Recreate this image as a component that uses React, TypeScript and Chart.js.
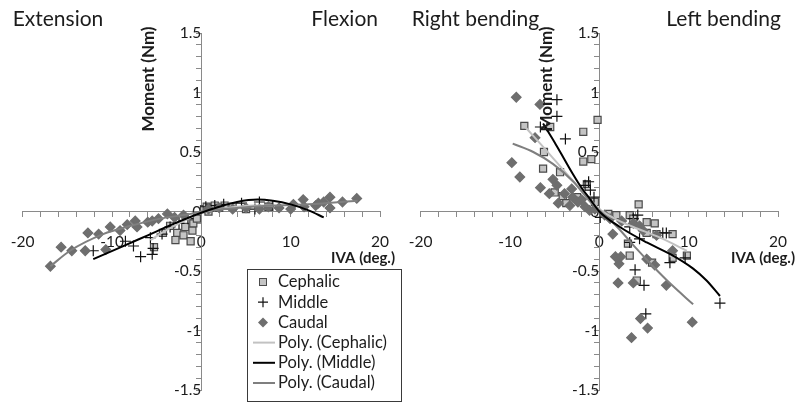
import React, { useEffect, useRef } from 'react';
import { Chart, registerables } from 'chart.js';

Chart.register(...registerables);

type Pt = { x: number; y: number };

// ---------- axes ----------
const X_MIN = -20;
const X_MAX = 20;
const X_STEP = 2;
const X_LABEL_EVERY = 10;
const Y_MIN = -1.5;
const Y_MAX = 1.5;
const Y_STEP = 0.1;
const Y_LABEL_EVERY = 0.5;
const X_TITLE = 'IVA (deg.)';
const Y_TITLE = 'Moment (Nm)';

const SERIES_NAMES = ['Cephalic', 'Middle', 'Caudal'];
const TREND_NAMES = ['Poly. (Cephalic)', 'Poly. (Middle)', 'Poly. (Caudal)'];

// ---------- panel 1 : extension / flexion ----------
const flexLabels = ['Extension', 'Flexion'];
const flexCephalic: Pt[] = [
  { x: -5.3, y: -0.3 }, { x: -4.3, y: -0.18 }, { x: -3.5, y: -0.12 }, { x: -2.9, y: -0.24 },
  { x: -2.7, y: -0.18 }, { x: -2.0, y: -0.2 }, { x: -1.8, y: -0.13 }, { x: -1.2, y: -0.25 },
  { x: -1.0, y: -0.16 }, { x: -0.9, y: -0.1 }, { x: -0.5, y: -0.06 }, { x: 0.3, y: 0.02 },
  { x: 0.6, y: 0.04 }, { x: 1.0, y: 0.03 }, { x: 1.5, y: 0.05 }, { x: 2.0, y: 0.03 },
  { x: 2.6, y: 0.05 }, { x: 3.5, y: 0.04 }, { x: 0.8, y: 0.0 }, { x: 5.0, y: 0.02 }, { x: 7.5, y: 0.04 },
];
const flexMiddle: Pt[] = [
  { x: -12.1, y: -0.33 }, { x: -8.5, y: -0.25 }, { x: -7.6, y: -0.29 }, { x: -6.8, y: -0.38 },
  { x: -5.5, y: -0.36 }, { x: -5.4, y: -0.31 }, { x: -5.7, y: -0.22 }, { x: -4.4, y: -0.19 },
  { x: -3.5, y: -0.13 }, { x: -2.5, y: -0.1 }, { x: -1.5, y: -0.06 }, { x: 0.5, y: 0.04 },
  { x: 1.5, y: 0.05 }, { x: 2.5, y: 0.06 }, { x: 3.5, y: 0.03 }, { x: 4.5, y: 0.07 },
  { x: 6.5, y: 0.08 }, { x: 6.0, y: 0.02 }, { x: 8.0, y: 0.05 },
];
const flexCaudal: Pt[] = [
  { x: -16.9, y: -0.46 }, { x: -15.7, y: -0.3 }, { x: -14.5, y: -0.33 }, { x: -13.0, y: -0.33 },
  { x: -12.7, y: -0.18 }, { x: -11.5, y: -0.19 }, { x: -10.7, y: -0.32 }, { x: -10.2, y: -0.13 },
  { x: -9.1, y: -0.16 }, { x: -8.3, y: -0.11 }, { x: -7.4, y: -0.08 }, { x: -7.2, y: -0.13 },
  { x: -6.0, y: -0.09 }, { x: -5.5, y: -0.08 }, { x: -4.8, y: -0.06 }, { x: -3.8, y: -0.02 },
  { x: -3.0, y: -0.05 }, { x: -2.0, y: -0.03 }, { x: 0.8, y: 0.02 }, { x: 2.0, y: 0.03 },
  { x: 3.5, y: 0.02 }, { x: 5.0, y: 0.03 }, { x: 6.5, y: 0.02 }, { x: 7.5, y: 0.04 },
  { x: 8.7, y: 0.03 }, { x: 10.0, y: 0.02 }, { x: 10.3, y: 0.06 }, { x: 11.4, y: 0.1 },
  { x: 11.5, y: 0.04 }, { x: 12.8, y: 0.05 }, { x: 13.1, y: 0.07 }, { x: 13.7, y: 0.08 },
  { x: 14.4, y: 0.03 }, { x: 14.4, y: 0.12 }, { x: 15.8, y: 0.08 }, { x: 17.4, y: 0.11 },
];
const flexPolyCephalic: Pt[] = [
  { x: -5.7, y: -0.24 }, { x: -4, y: -0.16 }, { x: -2, y: -0.08 }, { x: 0, y: -0.01 },
  { x: 2, y: 0.02 }, { x: 4, y: 0.04 }, { x: 6, y: 0.05 }, { x: 8, y: 0.05 },
];
const flexPolyMiddle: Pt[] = [
  { x: -12.1, y: -0.4 }, { x: -9, y: -0.3 }, { x: -6, y: -0.2 }, { x: -3, y: -0.1 },
  { x: 0, y: -0.01 }, { x: 2, y: 0.04 }, { x: 4, y: 0.08 }, { x: 6.3, y: 0.1 },
  { x: 8, y: 0.09 }, { x: 10, y: 0.06 }, { x: 12, y: 0.01 }, { x: 13.7, y: -0.05 },
];
const flexPolyCaudal: Pt[] = [
  { x: -16.9, y: -0.46 }, { x: -14.7, y: -0.33 }, { x: -11, y: -0.19 }, { x: -7.9, y: -0.12 },
  { x: -4.6, y: -0.06 }, { x: -1.2, y: -0.02 }, { x: 0, y: 0 }, { x: 4, y: 0.03 },
  { x: 8, y: 0.05 }, { x: 12, y: 0.06 }, { x: 17.5, y: 0.09 },
];

// ---------- panel 2 : right / left bending ----------
const bendLabels = ['Right bending', 'Left bending'];
const bendCephalic: Pt[] = [
  { x: -8.4, y: 0.72 }, { x: -5.5, y: 0.71 }, { x: -1.8, y: 0.67 }, { x: -0.2, y: 0.77 },
  { x: -1.8, y: 0.42 }, { x: -0.9, y: 0.44 }, { x: -6.3, y: 0.36 }, { x: -4.4, y: 0.33 },
  { x: -1.4, y: 0.23 }, { x: -5.0, y: 0.16 }, { x: -4.1, y: 0.13 }, { x: -3.7, y: 0.07 },
  { x: -6.2, y: 0.5 }, { x: -2.5, y: 0.12 }, { x: -0.5, y: 0.08 },
  { x: 1.9, y: -0.03 }, { x: 3.4, y: -0.03 }, { x: 4.4, y: 0.06 }, { x: 5.3, y: -0.09 },
  { x: 6.2, y: -0.1 }, { x: 8.2, y: -0.19 }, { x: 6.4, y: -0.19 }, { x: 3.4, y: -0.37 },
  { x: 3.2, y: -0.27 }, { x: 4.2, y: -0.58 }, { x: 5.9, y: -0.43 }, { x: 8.2, y: -0.39 },
  { x: 9.8, y: -0.37 }, { x: 5.3, y: -0.18 }, { x: 3.8, y: -0.06 }, { x: 1.0, y: -0.02 },
];
const bendMiddle: Pt[] = [
  { x: -4.75, y: 0.94 }, { x: -4.75, y: 0.8 }, { x: -6.6, y: 0.71 }, { x: -3.8, y: 0.61 },
  { x: -1.6, y: 0.22 }, { x: -1.2, y: 0.25 }, { x: -1.0, y: 0.18 }, { x: -0.6, y: 0.12 },
  { x: 0.1, y: -0.05 }, { x: 3.8, y: -0.06 }, { x: 4.3, y: -0.03 }, { x: 3.4, y: -0.13 },
  { x: 4.5, y: -0.23 }, { x: 7.1, y: -0.18 }, { x: 7.5, y: -0.18 }, { x: 7.9, y: -0.43 },
  { x: 9.6, y: -0.39 }, { x: 4.0, y: -0.49 }, { x: 5.0, y: -0.62 }, { x: 5.2, y: -0.86 },
  { x: 13.5, y: -0.77 }, { x: 3.4, y: -0.26 },
];
const bendCaudal: Pt[] = [
  { x: -9.3, y: 0.96 }, { x: -6.65, y: 0.9 }, { x: -7.2, y: 0.62 }, { x: -9.8, y: 0.41 },
  { x: -8.9, y: 0.29 }, { x: -6.6, y: 0.2 }, { x: -5.6, y: 0.15 }, { x: -4.75, y: 0.22 },
  { x: -5.2, y: 0.27 }, { x: -4.6, y: 0.07 }, { x: -3.0, y: 0.12 }, { x: -2.4, y: 0.08 },
  { x: -1.6, y: 0.04 }, { x: -1.1, y: 0.01 }, { x: -3.3, y: 0.05 }, { x: -3.9, y: 0.15 },
  { x: -3.1, y: 0.19 }, { x: -2.0, y: 0.1 }, { x: -0.5, y: 0.02 },
  { x: 0.6, y: -0.03 }, { x: 1.5, y: -0.19 }, { x: 1.8, y: -0.38 }, { x: 2.2, y: -0.44 },
  { x: 2.4, y: -0.38 }, { x: 2.1, y: -0.6 }, { x: 3.8, y: -0.6 }, { x: 3.6, y: -1.06 },
  { x: 4.6, y: -0.9 }, { x: 5.4, y: -0.98 }, { x: 7.5, y: -0.62 }, { x: 6.2, y: -0.45 },
  { x: 5.3, y: -0.4 }, { x: 10.4, y: -0.93 }, { x: 8.2, y: -0.33 }, { x: 4.9, y: -0.16 },
  { x: 6.4, y: -0.2 }, { x: 2.5, y: -0.08 }, { x: 3.8, y: -0.1 }, { x: 4.5, y: -0.12 }, { x: 1.2, y: -0.06 },
];
const bendPolyCephalic: Pt[] = [
  { x: -8.3, y: 0.71 }, { x: -5.9, y: 0.51 }, { x: -3.7, y: 0.32 }, { x: -1.4, y: 0.13 },
  { x: 0, y: 0.02 }, { x: 2, y: -0.07 }, { x: 3.8, y: -0.13 }, { x: 6.8, y: -0.22 }, { x: 9.8, y: -0.33 },
];
const bendPolyMiddle: Pt[] = [
  { x: -6.3, y: 0.74 }, { x: -5, y: 0.58 }, { x: -4, y: 0.45 }, { x: -3, y: 0.32 },
  { x: -2, y: 0.2 }, { x: -1, y: 0.1 }, { x: 0, y: 0 }, { x: 2.3, y: -0.13 },
  { x: 5.3, y: -0.26 }, { x: 8, y: -0.36 }, { x: 10.5, y: -0.48 }, { x: 12, y: -0.58 }, { x: 13.5, y: -0.71 },
];
const bendPolyCaudal: Pt[] = [
  { x: -9.7, y: 0.57 }, { x: -7.4, y: 0.5 }, { x: -5.2, y: 0.4 }, { x: -2.9, y: 0.25 },
  { x: -1, y: 0.08 }, { x: 0, y: 0.01 }, { x: 2, y: -0.13 }, { x: 4, y: -0.3 },
  { x: 6, y: -0.46 }, { x: 8, y: -0.61 }, { x: 10.5, y: -0.78 },
];

// ---------- styles ----------
const FONT = 'Lato, "Open Sans", sans-serif';
const TEXT = '#1c1c1c';
const AXIS = '#8a8a8a';
const C_SQ_FILL = '#c4c4c4';
const C_SQ_EDGE = '#4a4a4a';
const C_CROSS = '#111111';
const C_DIAMOND = '#6e6e6e';
const L_CEPH = '#c2c2c2';
const L_MID = '#000000';
const L_CAUD = '#7f7f7f';

type PanelCfg = {
  labels: string[];
  ceph: Pt[]; mid: Pt[]; caud: Pt[];
  pCeph: Pt[]; pMid: Pt[]; pCaud: Pt[];
  padLeft: number; padRight: number;
  labelDx: [number, number];
  titleDx: number;
  legend: boolean;
};

const panelText = {
  id: 'panelText',
  afterDraw(chart: any, _a: any, opts: any) {
    const ctx = chart.ctx as CanvasRenderingContext2D;
    const area = chart.chartArea;
    const x0 = chart.scales.x.getPixelForValue(0);
    const y0 = chart.scales.y.getPixelForValue(0);
    ctx.save();
    ctx.fillStyle = TEXT;
    ctx.textBaseline = 'middle';
    ctx.font = `21px ${FONT}`;
    ctx.textAlign = 'left';
    ctx.fillText(opts.labels[0], area.left + opts.labelDx[0], 19);
    ctx.textAlign = 'right';
    ctx.fillText(opts.labels[1], area.right + opts.labelDx[1], 19);
    // x title
    ctx.font = `bold 15px ${FONT}`;
    ctx.textAlign = 'right';
    ctx.fillText(X_TITLE, area.right + opts.titleDx, y0 + 47);
    // y title
    ctx.font = `bold 17px ${FONT}`;
    ctx.translate(x0 - 53, area.top + 46);
    ctx.rotate(-Math.PI / 2);
    ctx.textAlign = 'center';
    ctx.fillText(Y_TITLE, 0, 0);
    ctx.restore();

    if (opts.legend) {
      const lx = 247, ly = 269, lw = 155, lh = 133;
      ctx.save();
      ctx.fillStyle = '#ffffff';
      ctx.fillRect(lx, ly, lw, lh);
      ctx.strokeStyle = '#3a3a3a';
      ctx.lineWidth = 1;
      ctx.strokeRect(lx + 0.5, ly + 0.5, lw - 1, lh - 1);
      const names = [...SERIES_NAMES, ...TREND_NAMES];
      const mx = 263;
      names.forEach((n, i) => {
        const cy = 282 + i * 20.2;
        if (i === 0) {
          ctx.fillStyle = C_SQ_FILL;
          ctx.strokeStyle = C_SQ_EDGE;
          ctx.fillRect(mx - 3.5, cy - 3.5, 7, 7);
          ctx.strokeRect(mx - 3.5, cy - 3.5, 7, 7);
        } else if (i === 1) {
          ctx.strokeStyle = C_CROSS;
          ctx.lineWidth = 1.2;
          ctx.beginPath();
          ctx.moveTo(mx - 5, cy); ctx.lineTo(mx + 5, cy);
          ctx.moveTo(mx, cy - 5); ctx.lineTo(mx, cy + 5);
          ctx.stroke();
        } else if (i === 2) {
          ctx.fillStyle = C_DIAMOND;
          ctx.beginPath();
          ctx.moveTo(mx, cy - 5); ctx.lineTo(mx + 5, cy); ctx.lineTo(mx, cy + 5); ctx.lineTo(mx - 5, cy);
          ctx.closePath();
          ctx.fill();
        } else {
          ctx.strokeStyle = [L_CEPH, L_MID, L_CAUD][i - 3];
          ctx.lineWidth = 2;
          ctx.beginPath();
          ctx.moveTo(253, cy); ctx.lineTo(275, cy);
          ctx.stroke();
        }
        ctx.fillStyle = TEXT;
        ctx.font = `16.5px ${FONT}`;
        ctx.textAlign = 'left';
        ctx.textBaseline = 'middle';
        ctx.fillText(n, 278, cy);
      });
      ctx.restore();
    }
  },
};

function buildConfig(p: PanelCfg): any {
  const pointSet = (label: string, data: Pt[], style: string, r: number, fill: string, edge: string, order: number) => ({
    type: 'scatter', label, data, showLine: false, pointStyle: style, pointRadius: r,
    pointBackgroundColor: fill, pointBorderColor: edge, pointBorderWidth: 1.2, order,
  });
  const lineSet = (label: string, data: Pt[], color: string, order: number) => ({
    type: 'scatter', label, data, showLine: true, borderColor: color, borderWidth: 2,
    pointRadius: 0, cubicInterpolationMode: 'monotone', fill: false, order,
  });
  return {
    type: 'scatter',
    data: {
      datasets: [
        lineSet(TREND_NAMES[1], p.pMid, L_MID, 0),
        lineSet(TREND_NAMES[2], p.pCaud, L_CAUD, 1),
        lineSet(TREND_NAMES[0], p.pCeph, L_CEPH, 2),
        pointSet(SERIES_NAMES[2], p.caud, 'rectRot', 4.8, C_DIAMOND, C_DIAMOND, 3),
        pointSet(SERIES_NAMES[1], p.mid, 'cross', 5.5, C_CROSS, C_CROSS, 4),
        pointSet(SERIES_NAMES[0], p.ceph, 'rect', 5, C_SQ_FILL, C_SQ_EDGE, 5),
      ],
    },
    options: {
      responsive: false,
      animation: false,
      events: [],
      layout: { padding: { left: p.padLeft, right: p.padRight, top: 33, bottom: 18 } },
      plugins: {
        legend: { display: false },
        tooltip: { enabled: false },
        panelText: { labels: p.labels, labelDx: p.labelDx, titleDx: p.titleDx, legend: p.legend },
      },
      scales: {
        x: {
          type: 'linear', min: X_MIN, max: X_MAX,
          position: { y: 0 },
          afterFit: (s: any) => { s.height = 0; s.paddingLeft = 0; s.paddingRight = 0; },
          border: { display: true, color: AXIS, width: 1 },
          grid: { drawOnChartArea: false, drawTicks: true, tickLength: 5, color: AXIS },
          ticks: {
            stepSize: X_STEP, autoSkip: false, maxRotation: 0, padding: 16,
            color: TEXT, font: { family: FONT, size: 15.5 },
            callback: (v: number) => (Math.abs(v % X_LABEL_EVERY) < 1e-9 ? String(v) : ''),
          },
        },
        y: {
          type: 'linear', min: Y_MIN, max: Y_MAX,
          position: { x: 0 },
          afterFit: (s: any) => { s.width = 0; s.paddingTop = 0; s.paddingBottom = 0; },
          border: { display: true, color: AXIS, width: 1 },
          grid: { drawOnChartArea: false, drawTicks: true, tickLength: 5, color: AXIS },
          ticks: {
            stepSize: Y_STEP, autoSkip: false, padding: 11,
            color: TEXT, font: { family: FONT, size: 15.5 },
            callback: (v: number) => {
              const k = v / Y_LABEL_EVERY;
              if (Math.abs(k - Math.round(k)) > 1e-6) return '';
              const r = Math.round(v * 10) / 10;
              return r === 0 ? '0' : String(r);
            },
          },
        },
      },
    },
    plugins: [panelText],
  };
}

function Panel({ cfg, left, width }: { cfg: PanelCfg; left: number; width: number }) {
  const ref = useRef<HTMLCanvasElement | null>(null);
  useEffect(() => {
    if (!ref.current) return;
    const chart = new Chart(ref.current, buildConfig(cfg));
    return () => chart.destroy();
  }, []);
  return (
    <canvas
      ref={ref}
      width={width}
      height={408}
      style={{ position: 'absolute', left, top: 0, width, height: 408 }}
    />
  );
}

const flexPanel: PanelCfg = {
  labels: flexLabels,
  ceph: flexCephalic, mid: flexMiddle, caud: flexCaudal,
  pCeph: flexPolyCephalic, pMid: flexPolyMiddle, pCaud: flexPolyCaudal,
  padLeft: 22.7, padRight: 30, labelDx: [-10, -2], titleDx: 15, legend: true,
};
const bendPanel: PanelCfg = {
  labels: bendLabels,
  ceph: bendCephalic, mid: bendMiddle, caud: bendCaudal,
  pCeph: bendPolyCephalic, pMid: bendPolyMiddle, pCaud: bendPolyCaudal,
  padLeft: 20.7, padRight: 21, labelDx: [-9, 3], titleDx: 17, legend: false,
};

export default function App() {
  return (
    <div style={{ position: 'fixed', left: 0, top: 0, width: 799, height: 408, background: '#ffffff' }}>
      <Panel cfg={flexPanel} left={0} width={410} />
      <Panel cfg={bendPanel} left={400} width={399} />
    </div>
  );
}
